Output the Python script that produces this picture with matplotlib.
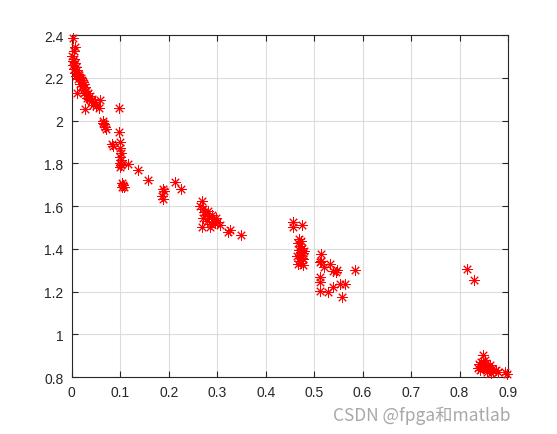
import matplotlib.pyplot as plt
import numpy as np

# pontos (x, y)
x_top = [0.003, 0.006, 0.005, 0.004, 0.002, 0.006, 0.003, 0.008, 0.004, 0.010, 0.006, 0.012,
         0.008, 0.015, 0.018, 0.012, 0.020, 0.022, 0.016, 0.025, 0.020, 0.028, 0.024, 0.030,
         0.026, 0.034, 0.030, 0.038, 0.035, 0.042, 0.040, 0.047, 0.044, 0.050, 0.058, 0.056,
         0.010, 0.027, 0.098, 0.001, 0.014, 0.032]
y_top = [2.385, 2.345, 2.325, 2.290, 2.280, 2.270, 2.260, 2.250, 2.240, 2.235, 2.225, 2.220,
         2.210, 2.215, 2.200, 2.195, 2.190, 2.180, 2.170, 2.170, 2.160, 2.155, 2.145, 2.140,
         2.130, 2.130, 2.120, 2.115, 2.100, 2.100, 2.090, 2.085, 2.075, 2.070, 2.095, 2.060,
         2.130, 2.055, 2.060, 2.300, 2.205, 2.105]

x_mid = [0.064, 0.066, 0.068, 0.070, 0.065, 0.082, 0.085, 0.098, 0.100, 0.099, 0.101, 0.100,
         0.102, 0.099, 0.101, 0.100, 0.116, 0.136, 0.103, 0.106, 0.108, 0.104, 0.158, 0.188,
         0.187, 0.190, 0.188, 0.213, 0.226]
y_mid = [2.000, 1.985, 1.970, 1.960, 1.990, 1.890, 1.880, 1.945, 1.898, 1.870, 1.850, 1.830,
         1.815, 1.800, 1.790, 1.781, 1.796, 1.768, 1.710, 1.700, 1.690, 1.687, 1.723, 1.680,
         1.645, 1.670, 1.633, 1.711, 1.680]

x_c3 = [0.268, 0.265, 0.270, 0.272, 0.275, 0.270, 0.280, 0.283, 0.278, 0.290, 0.292, 0.288,
        0.298, 0.300, 0.305, 0.268, 0.285, 0.295, 0.326, 0.322, 0.350]
y_c3 = [1.625, 1.600, 1.585, 1.570, 1.560, 1.545, 1.575, 1.555, 1.530, 1.560, 1.540, 1.515,
        1.545, 1.525, 1.510, 1.500, 1.500, 1.520, 1.490, 1.480, 1.465]

x_c4 = [0.457, 0.474, 0.457, 0.468, 0.472, 0.466, 0.470, 0.475, 0.468, 0.472, 0.477, 0.470,
        0.465, 0.474, 0.478, 0.469, 0.473, 0.480, 0.467, 0.476]
y_c4 = [1.524, 1.511, 1.500, 1.445, 1.435, 1.425, 1.415, 1.405, 1.395, 1.385, 1.380, 1.370,
        1.365, 1.358, 1.350, 1.345, 1.335, 1.390, 1.330, 1.325]

x_c5 = [0.515, 0.515, 0.512, 0.520, 0.533, 0.539, 0.545, 0.584, 0.513, 0.513, 0.512, 0.529,
        0.539, 0.553, 0.564, 0.557, 0.548]
y_c5 = [1.375, 1.344, 1.336, 1.315, 1.330, 1.297, 1.290, 1.302, 1.266, 1.246, 1.204, 1.196,
        1.220, 1.235, 1.235, 1.173, 1.300]

x_c6 = [0.815, 0.830, 0.849, 0.852, 0.845, 0.840, 0.848, 0.855, 0.858, 0.850, 0.843, 0.862,
        0.860, 0.866, 0.853, 0.870, 0.857, 0.847, 0.875, 0.880, 0.894, 0.897, 0.865, 0.838]
y_c6 = [1.305, 1.255, 0.903, 0.880, 0.870, 0.860, 0.850, 0.865, 0.845, 0.840, 0.835, 0.855,
        0.840, 0.838, 0.855, 0.830, 0.825, 0.845, 0.835, 0.825, 0.825, 0.815, 0.820, 0.842]

x = x_top + x_mid + x_c3 + x_c4 + x_c5 + x_c6
y = y_top + y_mid + y_c3 + y_c4 + y_c5 + y_c6

xticks = np.arange(0, 0.91, 0.1)
xlabels = ['0', '0.1', '0.2', '0.3', '0.4', '0.5', '0.6', '0.7', '0.8', '0.9']
yticks = np.arange(0.8, 2.41, 0.2)
ylabels = ['0.8', '1', '1.2', '1.4', '1.6', '1.8', '2', '2.2', '2.4']

fig = plt.figure(figsize=(5.57, 4.35), dpi=100)
ax = fig.add_axes([0.129, 0.131, 0.783, 0.786])

ax.plot(x, y, linestyle='none', marker=(8, 2, 0), markersize=7.5,
        markeredgewidth=0.7, color='red', clip_on=False, zorder=3)

ax.set_xlim(0, 0.9)
ax.set_ylim(0.8, 2.4)
ax.set_xticks(xticks)
ax.set_xticklabels(xlabels)
ax.set_yticks(yticks)
ax.set_yticklabels(ylabels)
ax.grid(True, color='#dcdcdc', linewidth=0.8)
ax.set_axisbelow(True)
ax.tick_params(direction='in', labelsize=10, colors='#262626', length=4,
               top=True, right=True, pad=6)
for s in ax.spines.values():
    s.set_color('#262626')
    s.set_linewidth(0.8)
for lab in ax.get_xticklabels() + ax.get_yticklabels():
    lab.set_family('Liberation Sans')

fig.text(0.917, 0.045, 'CSDN @fpga和matlab', ha='right', va='center',
         fontsize=12.5, color='#a8a8a8',
         family=['Noto Sans CJK SC', 'DejaVu Sans'])

fig.savefig('out.png', dpi=100)
